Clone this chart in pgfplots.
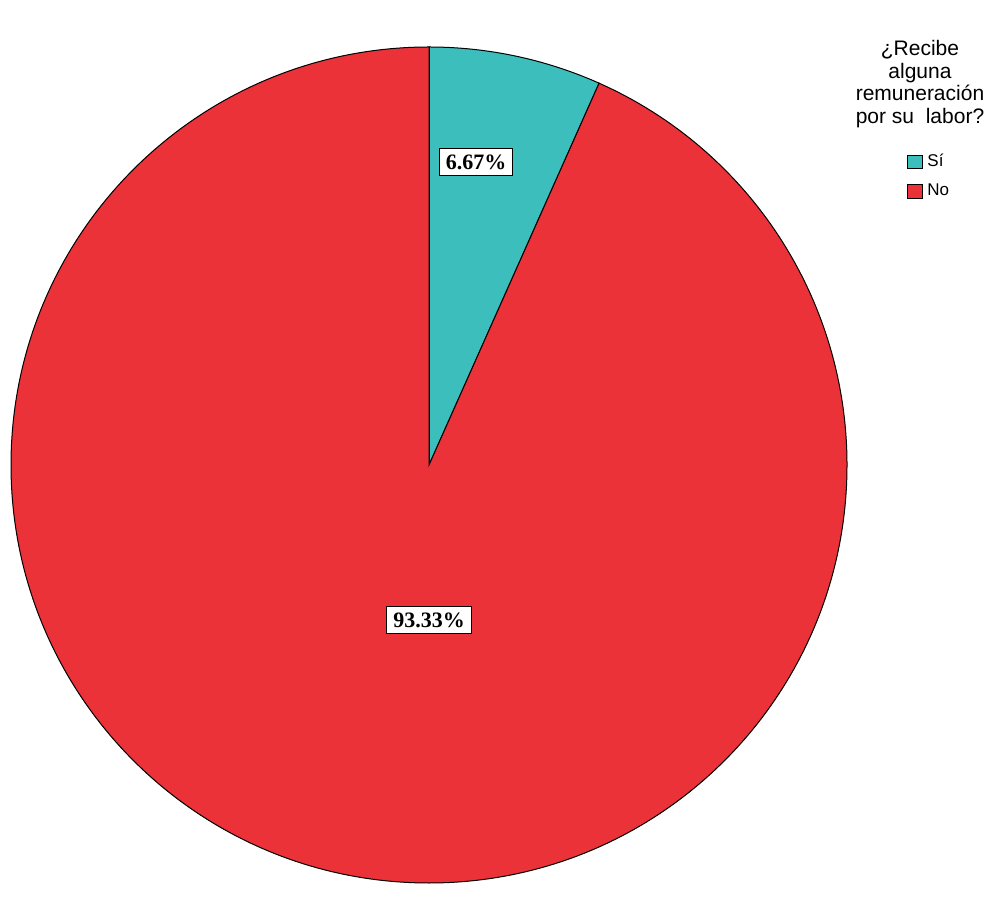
\documentclass[border=0pt]{standalone}
\usepackage{pgfplots}
\pgfplotsset{compat=1.18}
\usepackage{pgfplotstable}
\usepackage{fontspec}
\setmainfont{Liberation Serif}
\newfontfamily\arial{Liberation Sans}
\definecolor{si}{RGB}{60,190,188}
\definecolor{no}{RGB}{234,50,56}
\pgfplotstableread{
cat pct
Si 6.67
No 93.33
}\datatable
\begin{document}
\begin{tikzpicture}
\pgfplotstablegetelem{0}{pct}\of\datatable \edef\psi{\pgfplotsretval}
\pgfplotstablegetelem{1}{pct}\of\datatable \edef\pno{\pgfplotsretval}
\begin{axis}[hide axis, scale only axis, width=502.5pt, height=457.5pt,
  xmin=0, xmax=1005, ymin=0, ymax=915, clip=false,
  legend style={draw=none, fill=none, at={(axis cs:907,765)}, anchor=north west,
    font=\arial\fontsize{8.5}{9.5}\selectfont, inner sep=0pt, row sep=3pt,
    /tikz/every even column/.append style={column sep=1.5pt}},
  legend cell align=left]
\path (axis cs:0,0) rectangle (axis cs:1005,915);
\addlegendimage{legend image code/.code={\draw[fill=si,draw=black,line width=0.5pt] (0pt,-3.4pt) rectangle (7.5pt,3.4pt);}}
\addlegendentry{Sí}
\addlegendimage{legend image code/.code={\draw[fill=no,draw=black,line width=0.5pt] (0pt,-3.4pt) rectangle (7.5pt,3.4pt);}}
\addlegendentry{No}
% Sí slice
\filldraw[fill=si, draw=black, line width=0.5pt] (axis cs:429,450) -- (axis cs:429,868)
  arc[start angle=90, end angle={90-3.6*\psi}, radius=209pt] -- cycle;
% No slice
\filldraw[fill=no, draw=black, line width=0.5pt] (axis cs:429,450) -- (axis cs:429,868)
  arc[start angle=90, end angle={90+3.6*\pno}, radius=209pt] -- cycle;
\node[draw=black, fill=white, line width=0.6pt, inner sep=3.2pt, font=\bfseries\fontsize{11}{12}\selectfont] at (axis cs:476,753) {6.67\%};
\node[draw=black, fill=white, line width=0.6pt, inner sep=3.2pt, font=\bfseries\fontsize{11}{12}\selectfont] at (axis cs:429,295) {93.33\%};
\node[align=center, font=\arial\fontsize{10.5}{11.3}\selectfont] at (axis cs:920,831) {¿Recibe\\alguna\\remuneración\\por su\ \ labor?};
\end{axis}
\end{tikzpicture}
\end{document}
